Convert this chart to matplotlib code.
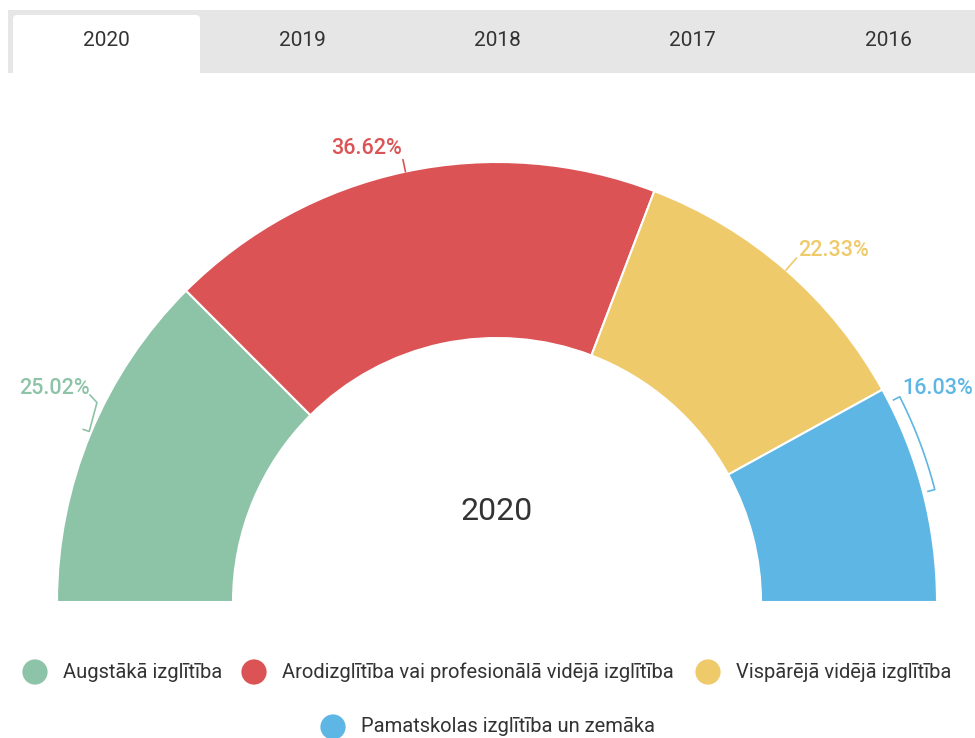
import numpy as np
import matplotlib
matplotlib.use("Agg")
import matplotlib.pyplot as plt
from matplotlib.patches import FancyBboxPatch, Rectangle

plt.rcParams['font.family'] = ['Roboto', 'DejaVu Sans']

years = ["2020", "2019", "2018", "2017", "2016"]
categories = ["Augstākā izglītība",
              "Arodizglītība vai profesionālā vidējā izglītība",
              "Vispārējā vidējā izglītība",
              "Pamatskolas izglītība un zemāka"]
shares = [25.02, 36.62, 22.33, 16.03]
colors = ["#8DC3A7", "#DB5355", "#EFCA6A", "#5EB6E5"]
active_year = "2020"

W, H = 975, 738
fig = plt.figure(figsize=(W / 100, H / 100), dpi=100)
ax = fig.add_axes([0, 0, 1, 1])

# center and radii in pixel space (y measured from bottom)
cx, cy = 497, H - 602
r_out, r_in = 440, 264

wedges, _ = ax.pie(shares + [sum(shares)], startangle=180, counterclock=False,
                   colors=colors + ["none"], radius=r_out, center=(cx, cy),
                   wedgeprops=dict(width=r_out - r_in, edgecolor="white", linewidth=1.5))
wedges[-1].set_edgecolor("none")

ax.set_xlim(0, W)
ax.set_ylim(0, H)
ax.set_aspect("equal")
ax.axis("off")


def pt(angle_deg, r):
    a = np.radians(angle_deg)
    return cx + r * np.cos(a), cy + r * np.sin(a)


# slice angles (degrees from x axis)
bounds = 180 - np.cumsum([0] + shares) * 1.8
mids = (bounds[:-1] + bounds[1:]) / 2
labels = ["%.2f%%" % s for s in shares]
lab_fs = 15.5

# green: bracket
g = colors[0]
p1 = pt(bounds[0] - 26.5, 447)
p2 = pt(bounds[0] - 22.7, 442)
ax.plot([90, p1[0], p2[0], p2[0] - 6], [H - 395, p1[1], p2[1], p2[1] + 2], color=g, lw=1.2)
ax.text(90, H - 388, labels[0], color=g, fontsize=lab_fs, ha="right", va="center", weight="medium")

# red: radial tick
r = colors[1]
a, b = pt(mids[1], r_out), pt(mids[1], r_out + 12)
ax.plot([a[0], b[0]], [a[1], b[1]], color=r, lw=1.2)
ax.text(367, H - 148, labels[1], color=r, fontsize=lab_fs, ha="center", va="center", weight="medium")

# yellow: short leader
y = colors[2]
a, b = pt(mids[2], r_out), pt(mids[2], r_out + 16)
ax.plot([a[0], b[0]], [a[1], b[1]], color=y, lw=1.2)
ax.text(798, H - 251, labels[2], color=y, fontsize=lab_fs, ha="left", va="center", weight="medium")

# blue: bracket arc
bl = colors[3]
angs = np.linspace(27, 14.4, 30)
xs, ys = pt(angs, 452)
t0 = pt(27, 445)
t1 = pt(14.4, 445)
ax.plot([t0[0]] + list(xs) + [t1[0]], [t0[1]] + list(ys) + [t1[1]], color=bl, lw=1.2)
ax.text(938, H - 388, labels[3], color=bl, fontsize=lab_fs, ha="center", va="center", weight="medium")

# center title
ax.text(cx, H - 511, active_year, color="#333333", fontsize=23, ha="center", va="center")

# tabs
ax.add_patch(Rectangle((8, H - 73), W - 8, 63, facecolor="#E6E6E6", edgecolor="none"))
ax.add_patch(FancyBboxPatch((13, H - 80), 187, 65, boxstyle="round,pad=0,rounding_size=4",
                            facecolor="white", edgecolor="none"))
ax.add_patch(Rectangle((8, H - 80), W - 8, 7, facecolor="white", edgecolor="none"))
tab_x = [106, 302, 497, 692, 888]
for tx, yr in zip(tab_x, years):
    ax.text(tx, H - 41, yr, color="#333333", fontsize=15, ha="center", va="center")

# legend
leg_pos = [(35, 672), (254, 672), (708, 672), (333, 727)]
for (lx, ly), c, name in zip(leg_pos, colors, categories):
    ax.scatter([lx], [H - ly], s=330, color=c, edgecolor="none", clip_on=False)
    ax.text(lx + 28, H - ly, name, color="#333333", fontsize=14.5, ha="left", va="center")

fig.savefig("out.png", dpi=100)
